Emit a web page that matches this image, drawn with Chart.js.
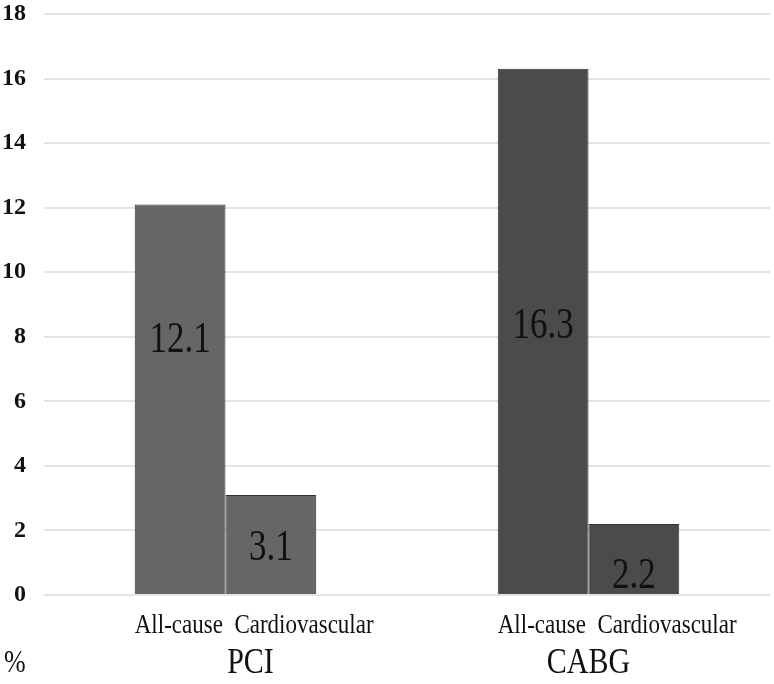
<!DOCTYPE html>
<html>
<head>
<meta charset="utf-8">
<script src="https://cdn.jsdelivr.net/npm/chart.js@4/dist/chart.umd.min.js"></script>
<style>
    body { margin: 0; background: #fff; }
    #wrap { width: 774px; height: 684px; }
</style>
</head>
<body>
<div id="wrap"><canvas id="chart" width="774" height="684"></canvas></div>
<script>
// groups on the x axis and the two bars inside each group
var groups = ["PCI", "CABG"];
var causes = ["All-cause", "Cardiovascular"];
var allCause = [12.1, 16.3];
var cardiovascular = [3.1, 2.2];
var groupColors = ["#666666", "#4b4b4b"];
var yMin = 0, yMax = 18, yStep = 2;
var unitLabel = "%";

var serif = "'Liberation Serif', 'Times New Roman', serif";

// draw text a bit taller than wide, like the scanned original
function tallText(ctx, txt, x, y, sy) {
    ctx.save();
    ctx.translate(x, y);
    ctx.scale(1, sy);
    ctx.fillText(txt, 0, 0);
    ctx.restore();
}

var labelsPlugin = {
    id: "labels",
    afterDatasetsDraw: function (chart, args, opts) {
        var ctx = chart.ctx;
        ctx.save();
        ctx.fillStyle = "#111";
        ctx.textAlign = "center";
        ctx.textBaseline = "middle";
        ctx.font = "35px " + serif;
        chart.data.datasets.forEach(function (ds, d) {
            var meta = chart.getDatasetMeta(d);
            meta.data.forEach(function (bar, i) {
                var f = opts.anchor[d][i];
                var y = bar.base + (bar.y - bar.base) * f;
                tallText(ctx, ds.data[i].toFixed(1), bar.x, y, 1.25);
            });
        });

        // bar names under each group, starting at the first bar's left edge
        var first = chart.getDatasetMeta(0);
        ctx.textAlign = "left";
        ctx.font = "23px " + serif;
        first.data.forEach(function (bar) {
            tallText(ctx, causes.join("  "), bar.x - bar.width / 2, 626, 1.2);
        });

        // group names
        var x = chart.scales.x;
        ctx.textAlign = "center";
        ctx.font = "30px " + serif;
        groups.forEach(function (g, i) {
            tallText(ctx, g, x.getPixelForValue(i) + opts.groupShift[i], 664, 1.2);
        });

        ctx.textAlign = "left";
        ctx.font = "26px " + serif;
        tallText(ctx, unitLabel, 4, 664, 1.2);
        ctx.restore();
    }
};

var ctx = document.getElementById("chart").getContext("2d");
var chart = new Chart(ctx, {
    type: "bar",
    data: {
        labels: groups,
        datasets: [{
            label: causes[0],
            data: allCause,
            backgroundColor: groupColors,
            borderColor: "#333",
            borderWidth: 1,
            categoryPercentage: 0.5,
            barPercentage: 1.0
        }, {
            label: causes[1],
            data: cardiovascular,
            backgroundColor: groupColors,
            borderColor: "#333",
            borderWidth: 1,
            categoryPercentage: 0.5,
            barPercentage: 1.0
        }]
    },
    options: {
        responsive: false,
        animation: false,
        devicePixelRatio: 1,
        layout: { padding: { top: 14, right: 4, bottom: 81, left: 0 } },
        plugins: {
            legend: { display: false },
            tooltip: { enabled: false },
            labels: {
                // where the value text sits, as a share of bar height from the base
                anchor: [[0.65, 0.51], [0.46, 0.25]],
                groupShift: [25, 0]
            }
        },
        scales: {
            x: {
                grid: { display: false },
                border: { display: false },
                ticks: { display: false }
            },
            y: {
                min: yMin,
                max: yMax,
                afterFit: function (scale) {
                    scale.width = 44;
                    scale.paddingTop = 0;
                    scale.paddingBottom = 0;
                },
                grid: { color: "#e4e4e4", lineWidth: 2, drawTicks: false },
                border: { display: false },
                ticks: {
                    stepSize: yStep,
                    padding: 18,
                    color: "#111",
                    font: { family: serif, size: 24, weight: "bold" }
                }
            }
        }
    },
    plugins: [labelsPlugin]
});
</script>
</body>
</html>
